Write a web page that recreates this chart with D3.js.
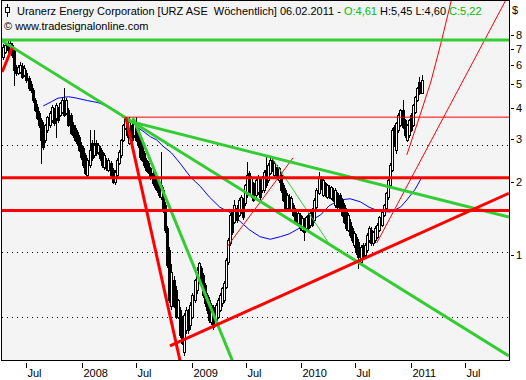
<!DOCTYPE html>
<html><head><meta charset="utf-8">
<script src="https://cdn.jsdelivr.net/npm/d3@7"></script>
<style>body{margin:0;background:#fff}svg{display:block}</style>
</head><body>
<svg id="c" width="526" height="380"></svg>
<script>
// ---- data ----
const firstWeek = "2007-04-15";
const openP = [6.47,6.78,7.30,6.91,7.24,6.91,5.89,5.57,5.62,5.95,
5.46,5.57,5.30,5.00,4.74,4.31,4.04,3.82,3.57,3.41,
2.96,3.25,3.41,3.57,3.93,3.64,3.98,3.74,3.86,4.23,
3.82,3.93,3.74,3.41,3.31,3.19,3.05,2.82,2.74,2.57,
2.13,2.34,2.88,2.57,2.88,2.64,2.74,2.64,2.29,2.45,
2.23,2.38,2.23,1.99,2.13,2.38,2.57,2.96,3.31,3.57,
2.88,3.41,3.10,3.41,3.25,2.96,2.82,2.62,2.45,2.38,
2.27,2.17,2.09,2.03,1.97,1.73,1.85,1.60,1.29,1.05,
0.62,0.79,0.72,0.557,0.595,0.542,0.40,0.493,0.578,0.517,
0.557,0.654,0.719,0.79,0.884,0.828,0.754,0.686,0.654,0.532,
0.612,0.542,0.557,0.595,0.636,0.654,0.74,0.936,1.12,1.50,
1.37,1.56,1.46,1.50,1.68,1.63,1.76,2.17,1.76,1.97,
1.76,1.81,2.03,1.85,1.85,2.23,2.03,2.17,2.45,2.13,
2.29,2.03,2.13,1.93,1.85,1.56,1.73,1.53,1.60,1.53,
1.35,1.46,1.27,1.39,1.29,1.46,1.33,1.53,1.39,1.57,
1.79,2.07,1.76,1.97,1.73,1.90,1.71,1.85,1.60,1.79,
1.76,1.68,1.60,1.53,1.27,1.37,1.29,1.10,1.19,1.13,
0.936,1.10,1.00,1.05,1.15,1.27,1.12,1.15,1.19,1.27,
1.33,1.46,1.56,1.73,1.93,2.23,3.34,2.69,3.25,3.41,
3.93,3.57,2.96,3.10,3.74,3.41,3.86,4.31,5.12,4.61];
const highP = [7.30,7.45,7.50,7.60,7.40,7.00,6.00,6.00,6.15,6.10,
6.00,5.70,5.40,5.15,4.85,4.40,4.15,3.90,3.65,3.50,
3.45,3.72,3.90,4.10,4.00,4.18,4.05,4.25,4.38,4.83,
4.40,4.00,3.80,3.50,3.40,3.25,3.10,2.90,2.80,2.62,
2.50,3.25,2.95,3.25,2.95,2.88,2.80,2.70,2.62,2.50,
2.50,2.42,2.28,2.22,2.50,2.68,3.00,3.45,3.67,3.62,
3.67,3.48,3.52,3.67,3.30,3.00,2.88,2.66,2.50,2.42,
2.30,2.20,2.12,2.06,2.00,2.64,1.90,1.65,1.32,1.08,
0.92,0.82,0.75,0.66,0.61,0.56,0.58,0.61,0.60,0.64,
0.70,0.80,0.89,0.94,0.90,0.84,0.77,0.70,0.67,0.635,
0.625,0.635,0.665,0.70,0.74,0.78,0.97,1.17,1.48,1.53,
1.68,1.60,1.71,1.76,1.72,1.96,2.40,2.20,2.10,2.00,
2.06,2.12,2.06,2.10,2.22,2.52,2.38,2.50,2.50,2.42,
2.33,2.30,2.17,1.97,1.88,1.79,1.77,1.74,1.64,1.56,
1.52,1.49,1.45,1.42,1.45,1.49,1.52,1.56,1.71,1.88,
2.19,2.11,2.06,2.00,1.96,1.93,1.92,1.88,1.88,1.82,
1.79,1.71,1.63,1.56,1.48,1.40,1.32,1.25,1.22,1.16,
1.10,1.12,1.12,1.23,1.31,1.30,1.26,1.31,1.35,1.45,
1.52,1.62,1.82,2.06,2.38,3.30,3.40,3.50,3.80,3.98,
4.31,3.62,3.45,3.60,3.80,4.15,4.50,4.90,5.35,5.45];
const lowP = [6.35,6.70,6.80,6.85,6.50,4.97,5.45,5.50,5.55,5.30,
5.40,5.10,4.75,4.65,4.25,3.88,3.60,3.35,2.38,2.72,
2.90,3.20,3.35,3.50,3.40,3.05,3.52,3.70,3.80,3.70,
3.78,3.38,3.12,3.05,2.92,2.85,2.66,2.48,2.30,2.15,
2.10,2.30,2.45,2.52,2.58,2.60,2.45,2.30,2.25,2.24,
2.20,2.10,1.97,1.96,2.10,2.35,2.52,2.92,3.28,3.05,
2.85,2.92,3.05,2.92,2.78,2.48,2.42,2.30,2.20,2.16,
2.05,1.94,1.87,1.82,1.73,1.70,1.50,1.24,0.89,0.64,
0.60,0.61,0.55,0.55,0.46,0.43,0.39,0.48,0.48,0.50,
0.55,0.64,0.70,0.77,0.74,0.67,0.62,0.58,0.53,0.52,
0.50,0.53,0.55,0.59,0.62,0.64,0.73,0.92,1.10,1.22,
1.35,1.37,1.44,1.48,1.41,1.60,1.73,1.82,1.73,1.66,
1.73,1.78,1.70,1.82,1.82,1.90,2.00,2.14,2.20,2.10,
2.05,2.00,1.82,1.66,1.51,1.53,1.51,1.51,1.44,1.35,
1.33,1.27,1.25,1.15,1.27,1.27,1.30,1.31,1.37,1.55,
1.77,1.86,1.74,1.74,1.71,1.71,1.69,1.66,1.58,1.55,
1.51,1.44,1.35,1.27,1.25,1.19,1.13,1.08,1.01,0.884,
0.92,0.96,0.98,1.03,1.13,1.10,1.10,1.13,1.17,1.25,
1.31,1.44,1.54,1.70,1.90,2.20,2.80,2.62,3.20,3.38,
3.30,3.05,2.92,3.05,3.22,3.38,3.82,4.28,4.55,4.60];
const closeP = [7.10,7.24,6.91,7.37,6.59,5.72,5.57,5.89,6.00,5.36,
5.83,5.21,4.83,4.74,4.31,3.93,3.64,3.41,2.96,2.77,
3.41,3.67,3.82,4.04,3.47,4.12,3.57,4.19,4.31,3.74,
4.31,3.41,3.16,3.10,2.96,2.88,2.69,2.52,2.34,2.17,
2.45,2.69,2.50,2.82,2.62,2.82,2.50,2.34,2.57,2.27,
2.45,2.13,1.99,2.19,2.45,2.64,2.96,3.41,3.64,3.10,
3.50,2.96,3.47,2.96,2.82,2.52,2.45,2.34,2.23,2.19,
2.09,1.97,1.90,1.85,1.76,1.93,1.53,1.27,0.91,0.654,
0.85,0.62,0.557,0.654,0.47,0.436,0.568,0.595,0.493,0.624,
0.686,0.79,0.868,0.927,0.754,0.686,0.636,0.595,0.542,0.624,
0.507,0.624,0.654,0.686,0.733,0.766,0.954,1.15,1.46,1.24,
1.60,1.39,1.68,1.73,1.43,1.93,2.13,1.85,2.07,1.68,
2.03,2.09,1.73,2.07,2.19,1.93,2.34,2.45,2.23,2.38,
2.07,2.27,1.85,1.68,1.53,1.76,1.53,1.71,1.46,1.37,
1.49,1.29,1.42,1.24,1.43,1.29,1.49,1.33,1.68,1.85,
2.07,1.88,2.03,1.76,1.93,1.73,1.90,1.68,1.85,1.57,
1.53,1.46,1.37,1.29,1.46,1.21,1.15,1.23,1.03,0.98,
1.08,0.98,1.10,1.21,1.29,1.12,1.24,1.29,1.33,1.43,
1.50,1.60,1.79,2.03,2.34,3.25,2.82,3.47,3.74,3.93,
3.34,3.10,3.41,3.57,3.25,4.12,4.44,4.83,4.62,5.22];
// moving average (blue), read at bar indices
const maIndex = [19,23,26,31,35,40,45,48,51,54,58,63,67,70,73,76,80,84,89,94,98,103,108,112,117,122,127,132,136,141,146,151,155,160,165,170,174,179,184,189,192,196,199];
const maValue = [4.08,4.25,4.39,4.45,4.39,4.29,4.21,4.12,4.02,3.86,3.67,3.37,3.19,3.05,2.96,2.79,2.62,2.38,2.09,1.90,1.73,1.57,1.49,1.39,1.27,1.19,1.16,1.19,1.22,1.29,1.38,1.46,1.59,1.68,1.70,1.65,1.57,1.51,1.50,1.57,1.68,1.86,2.07];
const yTickValues = [1,2,3,4,5,6,7,8];
const gridValues = [2.82,1.03,0.557];
const xTickDates = ["2007-07-01","2008-01-01","2008-07-01","2009-01-01","2009-07-01","2010-01-01","2010-07-01","2011-01-01","2011-07-01"];
const xTickLabels = ["Jul","2008","Jul","2009","Jul","2010","Jul","2011","Jul"];
// drawn trend lines: [date, price] points
const greenThick = [
  [["2007-04-01",7.6],["2011-12-31",7.6]],
  [["2007-04-11",7.53],["2011-11-24",0.386]],
  [["2008-05-24",3.57],["2011-11-24",1.43]],
  [["2008-06-20",3.64],["2009-05-29",0.34]]
];
const greenThin = [
  [["2009-09-19",2.57],["2010-04-07",1.10]]
];
const redThick = [
  [["2007-04-01",2.07],["2011-12-31",2.07]],
  [["2007-04-01",1.52],["2011-12-31",1.52]],
  [["2008-05-27",3.67],["2008-11-30",0.34]],
  [["2008-10-21",0.424],["2011-11-24",1.79]],
  [["2007-04-11",5.62],["2007-05-14",7.05]]
];
const redThin = [
  [["2008-05-14",3.67],["2011-12-31",3.67]],
  [["2009-04-29",1.08],["2009-12-05",2.50]],
  [["2010-12-19",2.57],["2011-01-28",3.61],["2011-03-09",5.11],["2011-04-11",7.31],["2011-05-15",10.87],["2011-05-22",11.95]],
  [["2010-09-10",1.12],["2011-11-21",11.5]]
];
const titleParts = [
  {t:"Uranerz Energy Corporation [URZ ASE \u00a0Wöchentlich] 06.02.2011 - ", c:"#000"},
  {t:"O:4,61 ", c:"#00c000"},
  {t:"H:5,45 L:4,60 ", c:"#000"},
  {t:"C:5,22", c:"#00c000"}
];
const subtitle = "© www.tradesignalonline.com";

// ---- chart ----
const parse = d3.timeParse("%Y-%m-%d");
const svg = d3.select("#c");
const L = 2, R = 509, T = 0, B = 360;
const x = d3.scaleTime().domain([parse("2008-01-01"), parse("2011-01-01")]).range([81.7, 410.7]);
const y = d3.scaleLog().domain([0.3715, 11.08]).range([B, T]);
const font = "'Liberation Sans', Arial, sans-serif";

svg.append("rect").attr("width",526).attr("height",380).attr("fill","#fff");
svg.append("rect").attr("x",L).attr("y",T).attr("width",R-L).attr("height",B-T).attr("fill","#f4f4f4");
svg.append("defs").append("clipPath").attr("id","clip").append("rect")
  .attr("x",L).attr("y",T).attr("width",R-L).attr("height",B-T);
const plot = svg.append("g").attr("clip-path","url(#clip)");

// grid
plot.selectAll("line.grid").data(gridValues).join("line")
  .attr("x1",L).attr("x2",R)
  .attr("y1",d=>Math.round(y(d))+0.5).attr("y2",d=>Math.round(y(d))+0.5)
  .attr("stroke","#000").attr("stroke-width",1).attr("stroke-dasharray","1,4");

// moving average
const maLine = d3.line().x(d=>x(d3.timeDay.offset(parse(firstWeek), 7*d[0]))).y(d=>y(d[1]));
plot.append("path").datum(maIndex.map((k,i)=>[k,maValue[i]]))
  .attr("d",maLine).attr("fill","none").attr("stroke","#0000ff").attr("stroke-width",1);

// candles
const bars = openP.map((o,i)=>({d:d3.timeDay.offset(parse(firstWeek),7*i),o,h:highP[i],l:lowP[i],c:closeP[i]}));
const cg = plot.append("g").attr("shape-rendering","crispEdges");
bars.forEach(b=>{
  const cx = Math.round(x(b.d));
  cg.append("line").attr("x1",cx+0.5).attr("x2",cx+0.5)
    .attr("y1",Math.round(y(b.h))).attr("y2",Math.round(y(b.l))+1)
    .attr("stroke","#000").attr("stroke-width",1);
  const top = Math.round(y(Math.max(b.o,b.c))), bot = Math.round(y(Math.min(b.o,b.c)));
  if (b.c >= b.o) {
    cg.append("rect").attr("x",cx-0.5).attr("y",top+0.5).attr("width",2).attr("height",Math.max(1,bot-top))
      .attr("fill","#fff").attr("stroke","#000").attr("stroke-width",1);
  } else {
    cg.append("rect").attr("x",cx-1).attr("y",top).attr("width",3).attr("height",Math.max(1,bot-top+1))
      .attr("fill","#000");
  }
});

// trend lines
const tl = d3.line().x(d=>x(parse(d[0]))).y(d=>y(d[1]));
function drawLines(arr, color, w){
  plot.selectAll(null).data(arr).join("path").attr("d",tl)
    .attr("fill","none").attr("stroke",color).attr("stroke-width",w);
}
drawLines(greenThin,"#33cc33",1);
drawLines(redThin,"#ff0000",1);
drawLines(greenThick,"#33cc33",3);
drawLines(redThick,"#ff0000",3);

// frame
svg.append("rect").attr("x",L-0.5).attr("y",T+0.5).attr("width",R-L+1).attr("height",B-T)
  .attr("fill","none").attr("stroke","#000").attr("stroke-width",1);

// right axis
const ya = svg.append("g");
yTickValues.forEach(v=>{
  const yy = Math.round(y(v))+0.5;
  ya.append("line").attr("x1",511).attr("x2",514).attr("y1",yy).attr("y2",yy).attr("stroke","#000");
  ya.append("text").attr("x",516).attr("y",yy).attr("dy","0.35em").attr("font-family",font)
    .attr("font-size",11).attr("fill","#000").text(v);
});
svg.append("text").attr("x",512).attr("y",14).attr("font-family",font).attr("font-size",11).text("$");

// bottom axis
xTickDates.forEach((d,i)=>{
  const xx = Math.round(x(parse(d)))+0.5;
  svg.append("line").attr("x1",xx).attr("x2",xx).attr("y1",363).attr("y2",368).attr("stroke","#000");
  svg.append("text").attr("x",xx+1).attr("y",377).attr("font-family",font).attr("font-size",11)
    .attr("fill","#000").text(xTickLabels[i]);
});

// title
const ic = svg.append("g").attr("shape-rendering","crispEdges");
ic.append("line").attr("x1",7.5).attr("x2",7.5).attr("y1",4).attr("y2",17).attr("stroke","#000");
ic.append("rect").attr("x",5.5).attr("y",7.5).attr("width",4).attr("height",5).attr("fill","#fff").attr("stroke","#000");
const tt = svg.append("text").attr("x",17).attr("y",14.5).attr("font-family",font).attr("font-size",11);
titleParts.forEach(p=>tt.append("tspan").attr("fill",p.c).text(p.t));
svg.append("text").attr("x",4).attr("y",30).attr("font-family",font).attr("font-size",11).text(subtitle);
</script>
</body></html>
